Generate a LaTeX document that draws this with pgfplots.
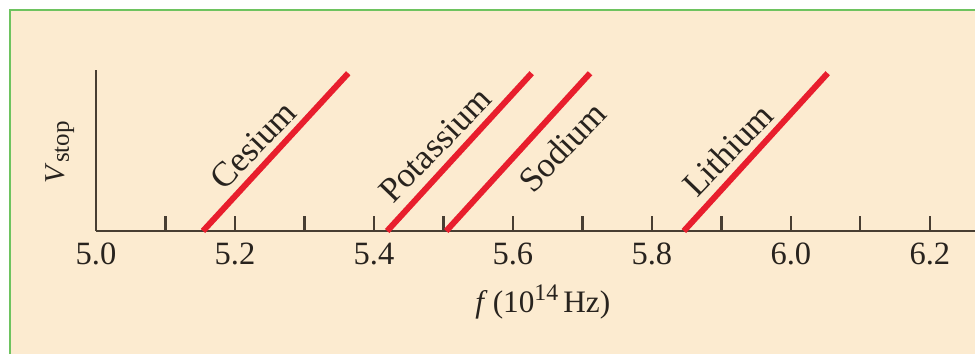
\documentclass[border=0pt]{standalone}
\usepackage{pgfplots}
\pgfplotsset{compat=1.18}
\usepackage{fontspec}
\setmainfont{Liberation Serif}
\usetikzlibrary{backgrounds}
\definecolor{bgc}{RGB}{252,235,208}
\definecolor{framec}{RGB}{110,195,95}
\definecolor{axc}{RGB}{72,62,50}
\definecolor{txt}{RGB}{40,35,30}
\definecolor{lred}{RGB}{232,30,45}
\begin{document}
\begin{tikzpicture}[x=1pt,y=1pt]
\path[use as bounding box] (-38.4,-49.2) rectangle (351.6,92.4);
\begin{scope}[on background layer]
\fill[white] (-38.4,-49.2) rectangle (351.6,92.4);
\fill[bgc] (-34.4,-49.2) rectangle (351.6,88.4);
\draw[framec, line width=0.6pt] (-34.4,-49.2) -- (-34.4,88.4) -- (351.6,88.4);
\end{scope}
\begin{axis}[
  at={(0,0)}, anchor=south west,
  scale only axis, width=351.6pt, height=64.4pt,
  xmin=5.0, xmax=6.265, ymin=0, ymax=1,
  axis lines=left,
  axis line style={-, axc, line width=1pt},
  ytick=\empty,
  xtick={5.0,5.2,5.4,5.6,5.8,6.0,6.2},
  xticklabels={5.0,5.2,5.4,5.6,5.8,6.0,6.2},
  minor xtick={5.1,5.3,5.5,5.7,5.9,6.1},
  tick align=inside,
  major tick length=6pt, minor tick length=6pt,
  every tick/.style={axc, line width=0.9pt},
  xticklabel style={font=\fontsize{13}{15}\selectfont, text=txt, yshift=-1.3pt},
  clip=false,
]
\addplot[lred, line width=2.4pt] coordinates {(5.154,0) (5.363,0.98)};
\addplot[lred, line width=2.4pt] coordinates {(5.419,0) (5.627,0.98)};
\addplot[lred, line width=2.4pt] coordinates {(5.504,0) (5.711,0.98)};
\addplot[lred, line width=2.4pt] coordinates {(5.846,0) (6.053,0.98)};
\node[rotate=46, text=txt, font=\fontsize{14}{16}\selectfont] at (axis cs:5.226,0.534) {Cesium};
\node[rotate=46, text=txt, font=\fontsize{14}{16}\selectfont] at (axis cs:5.488,0.534) {Potassium};
\node[rotate=46, text=txt, font=\fontsize{14}{16}\selectfont] at (axis cs:5.671,0.522) {Sodium};
\node[rotate=46, text=txt, font=\fontsize{14}{16}\selectfont] at (axis cs:5.909,0.503) {Lithium};
\node[text=txt, font=\fontsize{12.5}{15}\selectfont, yshift=-28.4pt] at (axis cs:5.643,0) {\textit{f}\,(10\raisebox{0.85ex}{\fontsize{9.5}{11}\selectfont 14}\,Hz)};
\node[rotate=90, text=txt, font=\fontsize{11.5}{13}\selectfont] at (axis cs:4.948,0.49) {\textit{V}\raisebox{-0.35ex}{\fontsize{10}{12}\selectfont stop}};
\end{axis}
\end{tikzpicture}
\end{document}
